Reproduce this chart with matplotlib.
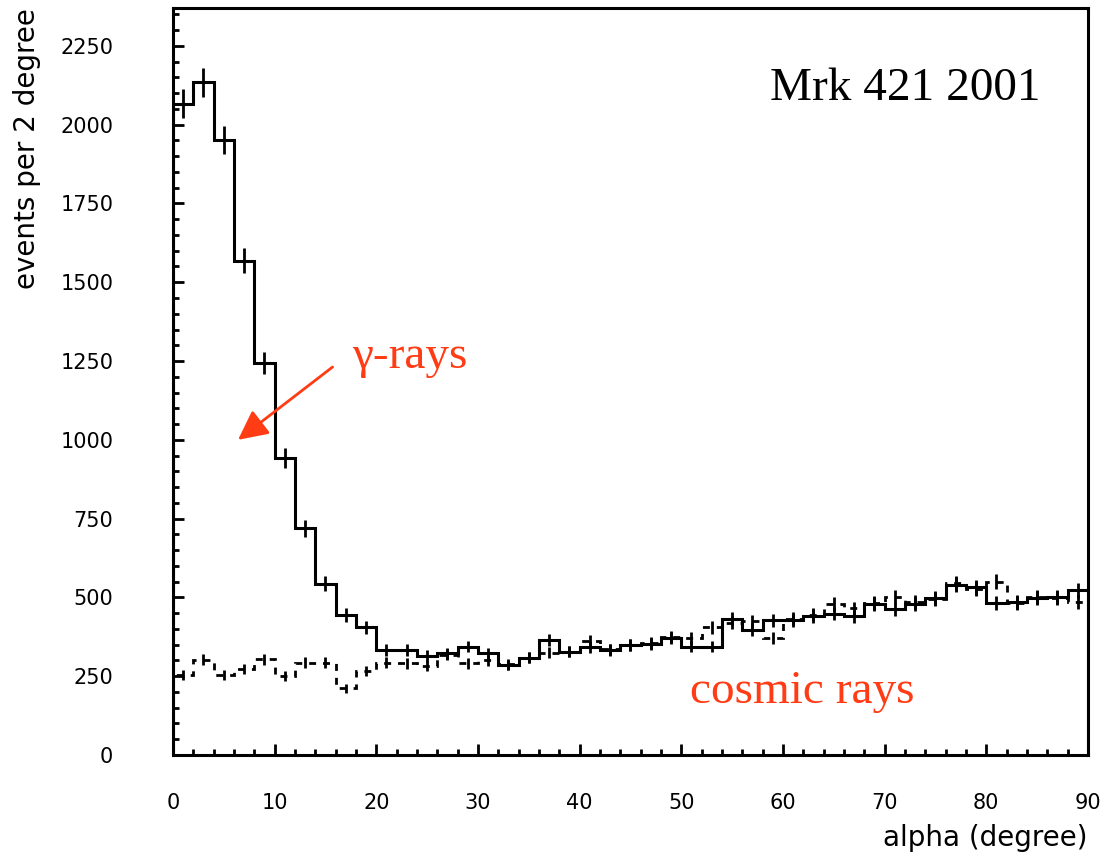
import numpy as np
import matplotlib
matplotlib.use('Agg')
from matplotlib import pyplot as plt
from matplotlib.ticker import MultipleLocator

# alpha bins, 2 degrees wide from 0 to 90
bin_edges = np.arange(0, 92, 2)

# events per bin, source direction (gamma-rays on top of background)
on_counts = [2067, 2135, 1950, 1568, 1243, 942, 719, 544, 444, 405,
             333, 333, 314, 323, 344, 323, 286, 308, 365, 328,
             342, 333, 349, 352, 370, 344, 344, 432, 398, 428,
             428, 441, 448, 440, 478, 462, 480, 498, 540, 532,
             483, 485, 498, 502, 522]

# events per bin, background direction (cosmic rays)
off_counts = [255, 303, 253, 273, 304, 250, 293, 293, 212, 266,
              293, 291, 282, 318, 291, 300, 288, 308, 325, 328,
              362, 335, 350, 355, 375, 372, 405, 420, 425, 372,
              432, 445, 480, 465, 482, 500, 485, 495, 545, 528,
              550, 482, 502, 498, 485]

red = '#ff3c14'

fig = plt.figure(figsize=(11.06, 8.61), dpi=100)
ax = fig.add_axes([0.1564, 0.1231, 0.8273, 0.8676])

centers = 0.5 * (bin_edges[:-1] + bin_edges[1:])
on = np.array(on_counts, dtype=float)
off = np.array(off_counts, dtype=float)

# histograms drawn as steps with sqrt(N) error bars
ax.stairs(off, bin_edges, color='black', lw=2.0, linestyle=(0, (2.5, 2.5)))
ax.errorbar(centers, off, yerr=np.sqrt(off), fmt='none', ecolor='black',
            elinewidth=2.0, capsize=0)
ax.stairs(on, bin_edges, color='black', lw=2.2)
ax.errorbar(centers, on, yerr=np.sqrt(on), fmt='none', ecolor='black',
            elinewidth=2.0, capsize=0)

ax.set_xlim(0, 90)
ax.set_ylim(0, 2370)

ax.xaxis.set_major_locator(MultipleLocator(10))
ax.xaxis.set_minor_locator(MultipleLocator(2))
ax.yaxis.set_major_locator(MultipleLocator(250))
ax.yaxis.set_minor_locator(MultipleLocator(50))
ax.tick_params(axis='both', which='both', direction='in', top=False, right=False,
               labelsize=15, width=2)
ax.tick_params(axis='both', which='major', length=8)
ax.tick_params(axis='both', which='minor', length=4.5)
ax.tick_params(axis='y', which='major', pad=43)
ax.tick_params(axis='x', which='major', pad=27)

for side in ax.spines.values():
    side.set_linewidth(2.2)

ax.set_xlabel('alpha (degree)', fontsize=20, loc='right', labelpad=8)
ax.set_ylabel('events per 2 degree', fontsize=20, loc='top', labelpad=14)

ax.text(0.652, 0.877, 'Mrk 421 2001', transform=ax.transAxes, fontsize=34,
        family='Liberation Serif', va='baseline', ha='left', color='black')
ax.text(0.196, 0.518, 'γ-rays', transform=ax.transAxes, fontsize=34,
        family='Liberation Serif', va='baseline', ha='left', color=red)
ax.text(0.565, 0.0696, 'cosmic rays', transform=ax.transAxes, fontsize=34,
        family='Liberation Serif', va='baseline', ha='left', color=red)

ax.annotate('', xy=(6.4, 1000), xytext=(15.7, 1231),
            arrowprops=dict(arrowstyle='-|>,head_length=0.6,head_width=0.3',
                            mutation_scale=30, color=red, lw=2,
                            shrinkA=0, shrinkB=0))

plt.savefig('out.png', dpi=100)
